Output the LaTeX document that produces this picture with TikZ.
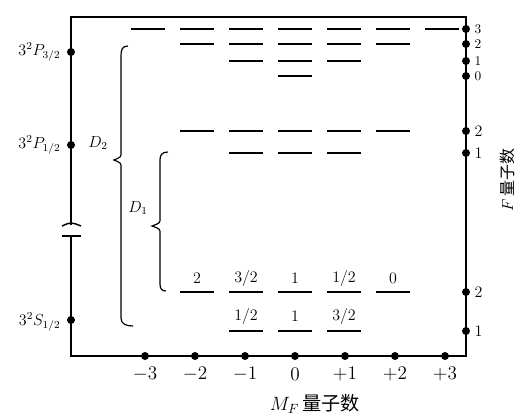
\documentclass[tikz,border=0pt]{standalone}
\usepackage{fontspec}
\newfontfamily\cjk{Noto Sans CJK SC}
\begin{document}
\begin{tikzpicture}[
  x=0.75pt,y=-0.75pt,
  frame/.style={line width=1.1pt},
  level/.style={line width=1.4pt},
  dot/.style={circle,fill,inner sep=0pt,minimum size=6pt},
  term/.style={font=\large,anchor=east,inner sep=1pt},
  tick/.style={font=\Large},
  flabel/.style={anchor=west,inner sep=1pt},
  mlabel/.style={font=\large}
]
  \useasboundingbox (0,0) rectangle (516,416);

  % frame with break on the energy axis
  \draw[frame] (71,225) -- (71,17) -- (466,17) -- (466,356) -- (71,356) -- (71,236);
  \draw[frame] (62,226) .. controls (71,222) .. (81,226);
  \draw[frame] (62,236) -- (81,236);

  % fine-structure terms
  \node[dot] (pa) at (71,52) {};
  \node[dot] (pb) at (71,145) {};
  \node[dot] (s) at (71,320) {};
  \node[term] (pa-t) at (62,52) {$3^2P_{3/2}$};
  \node[term] (pb-t) at (62,145) {$3^2P_{1/2}$};
  \node[term] (s-t) at (62,322) {$3^2S_{1/2}$};

  % M_F axis
  \foreach \m in {-3,...,3}{
    \node[dot] (mf\m) at ({295+50*\m},356) {};
    \node[tick] (mft\m) at ({295+50*\m},374)
      {\ifnum\m>0 $+\m$\else $\m$\fi};
  }
  \node[font=\Large] (mfq) at (315,404) {$M_F$\,{\cjk 量子数}};

  % F axis
  \foreach \y/\f [count=\i] in {29/3,44/2,61/1,76/0}{
    \node[dot] (f\i) at (466,\y) {};
    \node[flabel] (ft\i) at (473,\y) {$\f$};
  }
  \foreach \y/\f [count=\i from 5] in {131/2,153/1,292/2,331/1}{
    \node[dot] (f\i) at (466,\y) {};
    \node[flabel,font=\large] (ft\i) at (473,\y) {$\f$};
  }
  \node[rotate=90,font=\large] (fq) at (507,180) {$F$\,{\cjk 量子数}};

  % hyperfine sublevels
  \foreach \y/\a/\b in {29/-3/3,44/-2/2,61/-1/1,76/0/0,
                        131/-2/2,153/-1/1,292/-2/2,331/-1/1}
    \foreach \m in {\a,...,\b}
      \draw[level] ({295+49*\m-17},\y) -- ({295+49*\m+17},\y);

  % weights of the ground-state sublevels
  \foreach \m/\w [count=\i] in {-2/2,-1/{3/2},0/1,1/{1/2},2/0}
    \node[mlabel] (wa\i) at ({295+49*\m},278) {$\w$};
  \foreach \m/\w [count=\i] in {-1/{1/2},0/1,1/{3/2}}
    \node[mlabel] (wb\i) at ({295+49*\m},316) {$\w$};

  % D lines
  \draw[line width=0.9pt] (128,46) .. controls (122,46) and (121,50) .. (121,56)
    -- (121,153) .. controls (121,157) .. (114,160)
    .. controls (121,163) .. (121,167) -- (121,318)
    .. controls (121,324) and (126,326) .. (133,326);
  \node[font=\large] (d2) at (98,143) {$D_2$};
  \draw[line width=0.9pt] (168,152) .. controls (162,152) and (160,155) .. (160,160)
    -- (160,219) .. controls (160,223) .. (152,226)
    .. controls (160,229) .. (160,233) -- (160,284)
    .. controls (160,289) and (162,291) .. (166,291);
  \node[font=\large] (d1) at (138,208) {$D_1$};
\end{tikzpicture}
\end{document}
